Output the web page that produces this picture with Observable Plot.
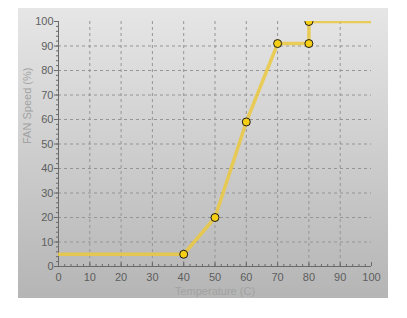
<!DOCTYPE html>
<html>
<head>
<meta charset="utf-8">
<script src="https://cdn.jsdelivr.net/npm/d3@7"></script>
<script src="https://cdn.jsdelivr.net/npm/@observablehq/plot@0.6"></script>
<style>
  html, body { margin: 0; padding: 0; background: #fff; }
  #wrap { position: relative; width: 407px; height: 318px; }
  #panel { position: absolute; left: 18px; top: 8px; width: 370px; height: 290px;
           background: linear-gradient(#e6e6e6, #b5b5b5); }
  #wrap svg { position: absolute; left: 0; top: 0; }
</style>
</head>
<body>
<div id="wrap"><div id="panel"></div></div>
<script>
// Fan curve: temperature (°C) -> fan speed (%)
const curveTemps  = [0, 40, 50, 60, 70, 80, 80, 100];
const curveSpeeds = [5, 5, 20, 59, 91, 91, 100, 100];
// Editable control points
const pointTemps  = [40, 50, 60, 70, 80, 80];
const pointSpeeds = [5, 20, 59, 91, 91, 100];
// Axis ticks
const majorTicks = d3.range(0, 101, 10);
const minorTicks = d3.range(0, 101, 2);
const gridTicks  = d3.range(10, 100, 10);

const curve  = curveTemps.map((t, i) => ({t, s: curveSpeeds[i]}));
const points = pointTemps.map((t, i) => ({t, s: pointSpeeds[i]}));

const gridStyle = {stroke: "#959595", strokeOpacity: 1, strokeWidth: 1, strokeDasharray: "3,3"};
const axisStroke = "#6a6a6a";

const chart = Plot.plot({
  width: 407,
  height: 318,
  marginLeft: 58,
  marginRight: 36,
  marginTop: 21,
  marginBottom: 52,
  x: {domain: [0, 100]},
  y: {domain: [0, 100]},
  style: {background: "transparent", fontFamily: "Liberation Sans, Arial, sans-serif", fontSize: "11px", color: "#5e5e5e"},
  marks: [
    Plot.ruleX(gridTicks, gridStyle),
    Plot.ruleY(gridTicks, gridStyle),
    // x axis: minor and major ticks point inward, labels below
    Plot.axisX(minorTicks, {tickSize: -2, text: null, stroke: axisStroke, label: null}),
    Plot.axisX(majorTicks, {tickSize: -4, text: null, stroke: axisStroke, label: null}),
    Plot.axisX(majorTicks, {tickSize: 0, tickPadding: 7, fill: "#5e5e5e", label: null}),
    // y axis: ticks point outward
    Plot.axisY(minorTicks, {tickSize: 2, text: null, stroke: axisStroke, label: null}),
    Plot.axisY(majorTicks, {tickSize: 4, tickPadding: 1, fill: "#5e5e5e", stroke: axisStroke, label: null}),
    Plot.ruleY([0], {stroke: axisStroke}),
    Plot.ruleX([0], {stroke: axisStroke}),
    Plot.text(["Temperature (C)"], {frameAnchor: "bottom", dy: 28, fill: "#a2a2a2"}),
    Plot.text(["FAN Speed (%)"], {frameAnchor: "left", dx: -31, rotate: -90, fill: "#a2a2a2"}),
    Plot.line(curve, {x: "t", y: "s", stroke: "#ebc93f", strokeWidth: 3.5, strokeOpacity: 0.85, clip: true}),
    Plot.dot(points, {x: "t", y: "s", r: 4, fill: "#f6cf14", fillOpacity: 1, stroke: "#1a1a1a", strokeWidth: 1, clip: true})
  ]
});
document.getElementById("wrap").appendChild(chart);
</script>
</body>
</html>
